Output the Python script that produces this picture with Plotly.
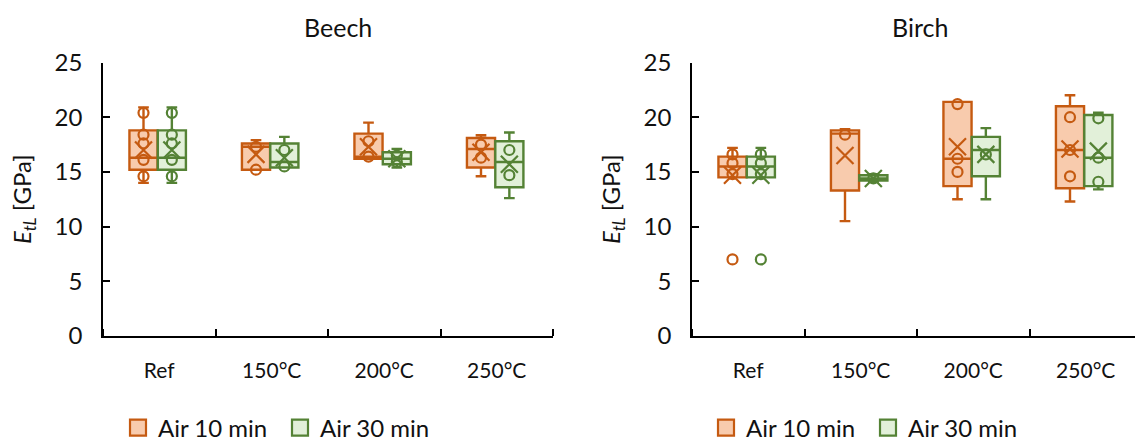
import plotly.graph_objects as go

categories = ["Ref", "150°C", "200°C", "250°C"]
series_names = ["Air 10 min", "Air 30 min"]

# Beech - Air 10 min
beech10_q1 = [15.2, 15.2, 16.2, 15.4]
beech10_median = [16.3, 17.3, 16.4, 17.1]
beech10_q3 = [18.8, 17.6, 18.5, 18.1]
beech10_low = [14.0, 15.2, 16.2, 14.6]
beech10_high = [20.9, 17.9, 19.5, 18.35]
beech10_mean = [17.0, 16.6, 17.3, 16.8]
beech10_points = [[20.4, 18.4, 17.6, 16.1, 14.6], [17.3, 15.2], [17.8, 16.4], [17.5, 16.3]]

# Beech - Air 30 min
beech30_q1 = [15.2, 15.4, 15.7, 13.6]
beech30_median = [16.3, 15.9, 16.2, 15.9]
beech30_q3 = [18.8, 17.6, 16.8, 17.8]
beech30_low = [14.0, 15.4, 15.4, 12.6]
beech30_high = [20.9, 18.2, 17.1, 18.6]
beech30_mean = [17.0, 16.3, 16.2, 15.7]
beech30_points = [[20.4, 18.4, 17.6, 16.1, 14.6], [17.0, 15.5], [16.5, 15.9], [17.0, 14.7]]

# Birch - Air 10 min
birch10_q1 = [14.5, 13.3, 13.7, 13.5]
birch10_median = [15.5, 18.5, 16.2, 17.0]
birch10_q3 = [16.4, 18.8, 21.4, 21.0]
birch10_low = [14.5, 10.5, 12.5, 12.3]
birch10_high = [17.2, 18.9, 21.4, 22.0]
birch10_mean = [14.7, 16.5, 17.3, 17.1]
birch10_points = [[16.6, 15.8, 14.8, 7.0], [18.4], [21.2, 16.2, 15.0], [20.0, 17.0, 14.6]]

# Birch - Air 30 min
birch30_q1 = [14.5, 14.2, 14.6, 13.7]
birch30_median = [15.5, 14.4, 17.0, 16.3]
birch30_q3 = [16.4, 14.7, 18.2, 20.2]
birch30_low = [14.5, 14.1, 12.5, 13.4]
birch30_high = [17.2, 14.8, 19.0, 20.4]
birch30_mean = [14.7, 14.4, 16.6, 16.9]
birch30_points = [[16.6, 15.8, 14.8, 7.0], [14.4], [16.6], [19.9, 16.3, 14.1]]

line_colors = ["#C55A11", "#548235"]
fill_colors = ["#F8CBAD", "#E2F0D9"]
offsets = [-0.14, 0.112]
box_width = 0.25

FONT = "Lato, 'Open Sans', sans-serif"

panels = [
    ("x", "y", "legend", [
        (beech10_q1, beech10_median, beech10_q3, beech10_low, beech10_high, beech10_mean, beech10_points),
        (beech30_q1, beech30_median, beech30_q3, beech30_low, beech30_high, beech30_mean, beech30_points),
    ]),
    ("x2", "y2", "legend2", [
        (birch10_q1, birch10_median, birch10_q3, birch10_low, birch10_high, birch10_mean, birch10_points),
        (birch30_q1, birch30_median, birch30_q3, birch30_low, birch30_high, birch30_mean, birch30_points),
    ]),
]

fig = go.Figure()
for xa, ya, leg, series in panels:
    for s, (q1, med, q3, lo, hi, mean, pts) in enumerate(series):
        pos = [i + offsets[s] for i in range(len(categories))]
        fig.add_trace(go.Box(
            x=pos, q1=q1, median=med, q3=q3, lowerfence=lo, upperfence=hi,
            width=box_width, whiskerwidth=0.38, boxpoints=False,
            line=dict(color=line_colors[s], width=2.4),
            fillcolor=fill_colors[s], xaxis=xa, yaxis=ya, showlegend=False,
            hoverinfo="skip",
        ))
        px_, py_ = [], []
        for i, plist in enumerate(pts):
            for v in plist:
                px_.append(pos[i])
                py_.append(v)
        fig.add_trace(go.Scatter(
            x=px_, y=py_, mode="markers", xaxis=xa, yaxis=ya, showlegend=False,
            marker=dict(symbol="circle-open", size=10, color=line_colors[s],
                        line=dict(width=2.2, color=line_colors[s])),
            hoverinfo="skip",
        ))
        fig.add_trace(go.Scatter(
            x=pos, y=mean, mode="markers", xaxis=xa, yaxis=ya, showlegend=False,
            marker=dict(symbol="x-thin-open", size=17, color=line_colors[s],
                        line=dict(width=2.2, color=line_colors[s])),
            hoverinfo="skip",
        ))
        # legend entry
        fig.add_trace(go.Scatter(
            x=[None], y=[None], mode="markers", name=series_names[s],
            xaxis=xa, yaxis=ya, legend=leg,
            marker=dict(symbol="square", size=18, color=fill_colors[s],
                        line=dict(width=2.2, color=line_colors[s])),
        ))

W, H = 1135, 441
y_bot = (H - 336) / H
y_top = (H - 62.5) / H

xcommon = dict(
    tickvals=list(range(len(categories))), ticktext=categories, ticks="",
    showline=True, linecolor="black", linewidth=1.5, showgrid=False, zeroline=False,
    tickfont=dict(size=21, color="#111"), automargin=False,
    minor=dict(tickvals=[-0.5, 0.5, 1.5, 2.5, 3.5], ticks="inside", ticklen=7,
               tickwidth=1.5, tickcolor="black", showgrid=False),
    ticklabelstandoff=15,
)
ycommon = dict(
    range=[0, 25], tickvals=[0, 5, 10, 15, 20, 25], ticks="inside", ticklen=7,
    tickwidth=1.5, tickcolor="black", showline=True, linecolor="black", linewidth=1.5,
    showgrid=False, zeroline=False, tickfont=dict(size=24, color="#111"),
    ticklabelstandoff=14, automargin=False,
    title=dict(text="<i>E</i><sub><i>tL</i></sub> [GPa]", font=dict(size=24, color="#111"), standoff=16),
    domain=[y_bot, y_top],
)

fig.update_layout(
    width=W, height=H, margin=dict(l=0, r=0, t=0, b=0, autoexpand=False),
    paper_bgcolor="white", plot_bgcolor="white",
    font=dict(family=FONT, color="#111"),
    xaxis=dict(domain=[103 / W, 553 / W], range=[-0.5, 3.5], anchor="y", **xcommon),
    xaxis2=dict(domain=[692 / W, 1.0], range=[-0.5, 3.5 - 7 / 112.5], anchor="y2", **xcommon),
    yaxis=dict(anchor="x", **ycommon),
    yaxis2=dict(anchor="x2", **ycommon),
    legend=dict(orientation="h", x=118 / W, y=(H - 428) / H, xanchor="left", yanchor="middle",
                font=dict(size=24, color="#111"), entrywidth=117, itemsizing="trace",
                bgcolor="rgba(0,0,0,0)"),
    legend2=dict(orientation="h", x=706 / W, y=(H - 428) / H, xanchor="left", yanchor="middle",
                 font=dict(size=24, color="#111"), entrywidth=117, itemsizing="trace",
                 bgcolor="rgba(0,0,0,0)"),
    annotations=[
        dict(text="Beech", x=338 / W, y=(H - 27) / H, xref="paper", yref="paper",
             showarrow=False, font=dict(size=25, color="#111"), xanchor="center", yanchor="middle"),
        dict(text="Birch", x=920 / W, y=(H - 27) / H, xref="paper", yref="paper",
             showarrow=False, font=dict(size=25, color="#111"), xanchor="center", yanchor="middle"),
    ],
)

fig.write_html("out.html", config={"displayModeBar": False},
               post_script="document.body.style.margin='0';document.body.style.overflow='hidden';")
